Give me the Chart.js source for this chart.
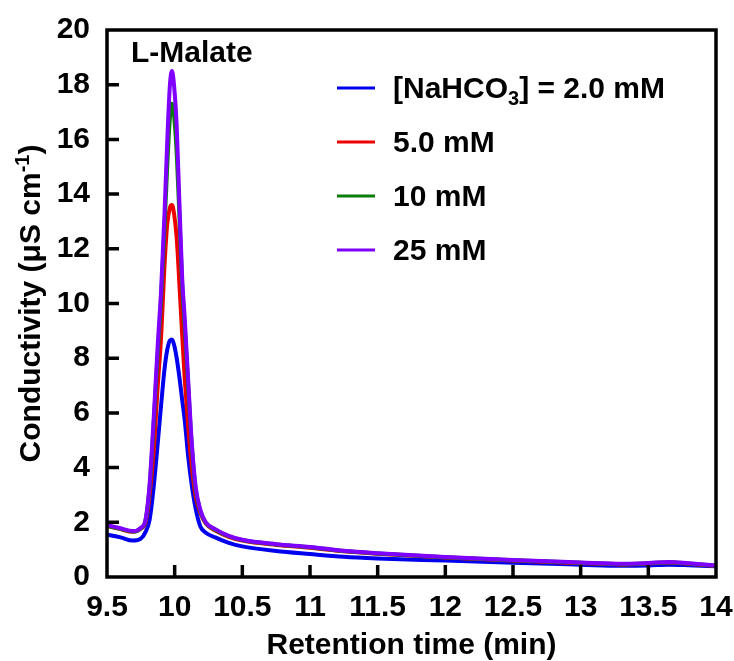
<!DOCTYPE html>
<html>
<head>
<meta charset="utf-8">
<script src="https://cdn.jsdelivr.net/npm/chart.js@4.4.1/dist/chart.umd.min.js"></script>
<style>
    html, body { margin: 0; padding: 0; background: #fff; }
    canvas { display: block; }
</style>
</head>
<body>
<canvas id="malateChart" width="734" height="661"></canvas>
<script>
// values
const retentionTimes = [9.5, 9.6, 9.69, 9.75, 9.785, 9.815, 9.845, 9.875, 9.9, 9.925, 9.945, 9.965, 9.98, 9.995, 10.015, 10.035, 10.055, 10.075, 10.1, 10.125, 10.155, 10.19, 10.23, 10.3, 10.4, 10.5, 10.75, 11, 11.25, 11.5, 12, 12.5, 13, 13.3, 13.5, 13.65, 13.8, 14];
const conc2mM = [1.55, 1.45, 1.33, 1.40, 1.65, 2.1, 3.3, 4.9, 6.3, 7.6, 8.3, 8.65, 8.68, 8.5, 8.0, 7.3, 6.5, 5.7, 4.4, 3.4, 2.5, 1.85, 1.62, 1.45, 1.25, 1.12, 0.95, 0.84, 0.74, 0.68, 0.6, 0.52, 0.45, 0.41, 0.42, 0.45, 0.43, 0.39];
const conc5mM = [1.87, 1.75, 1.65, 1.77, 2.0, 3.0, 4.6, 7.0, 8.8, 11.4, 12.9, 13.5, 13.6, 13.3, 12.4, 10.7, 8.9, 7.2, 5.5, 4.1, 2.95, 2.35, 1.95, 1.7, 1.47, 1.33, 1.17, 1.07, 0.94, 0.85, 0.71, 0.6, 0.51, 0.46, 0.49, 0.53, 0.48, 0.41];
const conc10mM = [1.88, 1.76, 1.66, 1.78, 2.08, 3.3, 5.6, 8.2, 10.2, 12.8, 15.0, 16.8, 17.3, 16.9, 15.5, 13.2, 10.7, 9.1, 7.0, 4.9, 3.2, 2.42, 1.98, 1.73, 1.49, 1.35, 1.19, 1.09, 0.95, 0.86, 0.72, 0.61, 0.52, 0.47, 0.50, 0.54, 0.49, 0.41];
const conc25mM = [1.90, 1.78, 1.68, 1.80, 2.10, 3.4, 5.8, 8.5, 10.5, 13.3, 15.9, 18.0, 18.5, 18.0, 16.5, 13.7, 11.0, 9.4, 7.2, 5.0, 3.3, 2.45, 2.0, 1.75, 1.5, 1.36, 1.2, 1.1, 0.96, 0.87, 0.73, 0.62, 0.53, 0.48, 0.51, 0.55, 0.50, 0.42];

const seriesLabels = ['[NaHCO₃] = 2.0 mM', '5.0 mM', '10 mM', '25 mM'];
const seriesColors = ['#0000ee', '#ee0000', '#0b7d0b', '#7f00ff'];
const xTickValues = [9.5, 10, 10.5, 11, 11.5, 12, 12.5, 13, 13.5, 14];
const yTickValues = [0, 2, 4, 6, 8, 10, 12, 14, 16, 18, 20];
const peakLabel = 'L-Malate';
const xTitle = 'Retention time (min)';
const yTitle = 'Conductivity (μS cm⁻¹)';

const FONT = '"Liberation Sans", Arial, sans-serif';
const SUB = '₀₁₂₃₄₅₆₇₈₉';
const SUP = { '⁻': '-', '¹': '1', '²': '2', '³': '3' };

// split a label into normal / sub / sup runs
function scriptRuns(text) {
    const runs = [];
    for (const ch of text) {
        let mode = 'n', t = ch;
        if (SUB.includes(ch)) { mode = 'sub'; t = String(SUB.indexOf(ch)); }
        else if (SUP[ch]) { mode = 'sup'; t = SUP[ch]; }
        const last = runs[runs.length - 1];
        if (last && last.mode === mode) last.t += t;
        else runs.push({ t, mode });
    }
    return runs;
}

function drawScript(ctx, text, x, y, size, align) {
    const runs = scriptRuns(text);
    const small = Math.round(size * 0.65);
    const width = runs.reduce((w, r) => {
        ctx.font = `bold ${r.mode === 'n' ? size : small}px ${FONT}`;
        return w + ctx.measureText(r.t).width;
    }, 0);
    let cx = align === 'center' ? x - width / 2 : x;
    ctx.textAlign = 'left';
    ctx.textBaseline = 'alphabetic';
    runs.forEach((r) => {
        ctx.font = `bold ${r.mode === 'n' ? size : small}px ${FONT}`;
        const dy = r.mode === 'sub' ? size * 0.22 : r.mode === 'sup' ? -size * 0.38 : 0;
        ctx.fillText(r.t, cx, y + dy);
        cx += ctx.measureText(r.t).width;
    });
}

// keep the plot box where the figure has it, whatever the labels overhang
function noOverhang(scale) {
    scale.paddingLeft = 0;
    scale.paddingRight = 0;
    scale.paddingTop = 0;
    scale.paddingBottom = 0;
}

const frame = {
    id: 'frame',
    afterDraw(chart) {
        const { ctx, chartArea: a, scales } = chart;
        ctx.save();
        ctx.strokeStyle = '#000';
        ctx.lineWidth = 3.5;
        ctx.strokeRect(a.left, a.top, a.right - a.left, a.bottom - a.top);
        ctx.beginPath();
        xTickValues.forEach((v) => {
            const px = scales.x.getPixelForValue(v);
            if (px <= a.left + 2 || px >= a.right - 2) return;
            ctx.moveTo(px, a.bottom);
            ctx.lineTo(px, a.bottom - 12);
        });
        yTickValues.forEach((v) => {
            const py = scales.y.getPixelForValue(v);
            if (py <= a.top + 2 || py >= a.bottom - 2) return;
            ctx.moveTo(a.left, py);
            ctx.lineTo(a.left + 12, py);
        });
        ctx.stroke();

        ctx.fillStyle = '#000';
        drawScript(ctx, peakLabel, a.left + 24, a.top + 32, 30, 'left');

        // legend
        chart.data.datasets.forEach((ds, i) => {
            const y = 88 + i * 54;
            ctx.strokeStyle = ds.borderColor;
            ctx.lineWidth = 3;
            ctx.beginPath();
            ctx.moveTo(337, y);
            ctx.lineTo(375, y);
            ctx.stroke();
            ctx.fillStyle = '#000';
            drawScript(ctx, ds.label, 393, y + 10, 30, 'left');
        });

        // y title
        ctx.translate(40, (a.top + a.bottom) / 2);
        ctx.rotate(-Math.PI / 2);
        drawScript(ctx, yTitle, 0, 0, 30, 'center');
        ctx.restore();
    },
};

const seriesValues = [conc2mM, conc5mM, conc10mM, conc25mM];

new Chart(document.getElementById('malateChart'), {
    type: 'line',
    data: {
        datasets: seriesValues.map((vals, i) => ({
            label: seriesLabels[i],
            data: retentionTimes.map((t, k) => ({ x: t, y: vals[k] })),
            borderColor: seriesColors[i],
            borderWidth: 4,
            pointRadius: 0,
            fill: false,
            cubicInterpolationMode: 'monotone',
            order: seriesValues.length - i,
        })),
    },
    options: {
        responsive: false,
        animation: false,
        events: [],
        layout: { padding: { top: 30, right: 18, left: 0, bottom: 0 } },
        plugins: { legend: { display: false }, tooltip: { enabled: false } },
        scales: {
            x: {
                type: 'linear',
                min: 9.5,
                max: 14,
                afterBuildTicks: (scale) => { scale.ticks = xTickValues.map((v) => ({ value: v })); },
                afterFit: (scale) => { scale.height = 84; noOverhang(scale); },
                grid: { display: false, drawTicks: false },
                border: { display: false },
                ticks: {
                    color: '#000',
                    padding: 13,
                    maxRotation: 0,
                    font: { family: FONT, size: 30, weight: 'bold' },
                    callback: (v) => String(v),
                },
                title: {
                    display: true,
                    text: xTitle,
                    color: '#000',
                    padding: { top: 0, bottom: 0 },
                    font: { family: FONT, size: 30, weight: 'bold', lineHeight: 1 },
                },
            },
            y: {
                min: 0,
                max: 20,
                afterBuildTicks: (scale) => { scale.ticks = yTickValues.map((v) => ({ value: v })); },
                afterFit: (scale) => { scale.width = 107; noOverhang(scale); },
                grid: { display: false, drawTicks: false },
                border: { display: false },
                ticks: {
                    color: '#000',
                    padding: 17,
                    font: { family: FONT, size: 30, weight: 'bold' },
                    callback: (v) => String(v),
                },
            },
        },
    },
    plugins: [frame],
});
</script>
</body>
</html>
